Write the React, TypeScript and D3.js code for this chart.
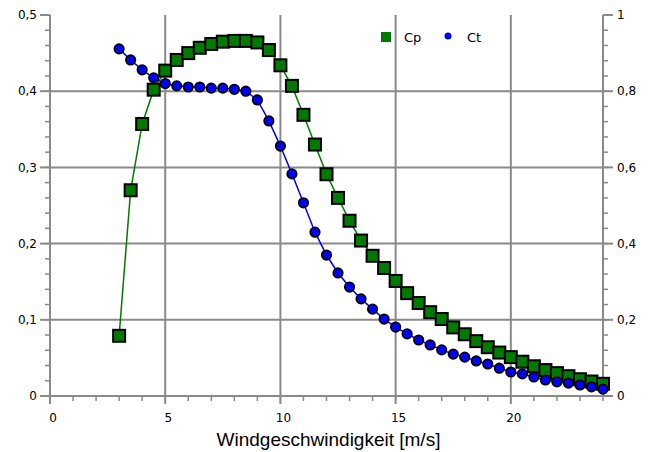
import React from "react";
import * as d3 from "d3";

const windSpeeds = [3, 3.5, 4, 4.5, 5, 5.5, 6, 6.5, 7, 7.5, 8, 8.5, 9, 9.5, 10, 10.5, 11, 11.5, 12, 12.5, 13, 13.5, 14, 14.5, 15, 15.5, 16, 16.5, 17, 17.5, 18, 18.5, 19, 19.5, 20, 20.5, 21, 21.5, 22, 22.5, 23, 23.5, 24];
const cpValues = [0.079, 0.27, 0.357, 0.402, 0.427, 0.441, 0.45, 0.457, 0.462, 0.465, 0.466, 0.466, 0.464, 0.454, 0.434, 0.407, 0.369, 0.33, 0.291, 0.26, 0.23, 0.204, 0.184, 0.168, 0.151, 0.135, 0.122, 0.11, 0.101, 0.09, 0.081, 0.072, 0.064, 0.057, 0.051, 0.045, 0.039, 0.034, 0.03, 0.026, 0.022, 0.019, 0.016];
const ctValues = [0.911, 0.882, 0.856, 0.835, 0.82, 0.814, 0.811, 0.811, 0.808, 0.808, 0.805, 0.8, 0.777, 0.722, 0.656, 0.583, 0.507, 0.43, 0.37, 0.323, 0.286, 0.255, 0.228, 0.202, 0.181, 0.163, 0.147, 0.134, 0.121, 0.11, 0.102, 0.092, 0.084, 0.073, 0.063, 0.058, 0.05, 0.042, 0.037, 0.034, 0.029, 0.024, 0.018];
const xTicks = [0, 5, 10, 15, 20];
const leftTicks = [0, 0.1, 0.2, 0.3, 0.4, 0.5];
const rightTicks = [0, 0.2, 0.4, 0.6, 0.8, 1];

const gridColor = "#8a8a8a";
const fmt = (v: number) => String(+v.toFixed(2)).replace(".", ",");

export default function App() {
  const x = d3.scaleLinear().domain([0, 24]).range([50, 603]);
  const yL = d3.scaleLinear().domain([0, 0.5]).range([396, 15]);
  const yR = d3.scaleLinear().domain([0, 1]).range([396, 15]);

  const cpLine = d3.line<number>().x((d, i) => x(windSpeeds[i])).y(d => yL(d));
  const ctLine = d3.line<number>().x((d, i) => x(windSpeeds[i])).y(d => yR(d));

  const xMinor = d3.range(0, 25, 1);
  const leftMinor = d3.range(0, 0.501, 0.02);
  const rightMinor = d3.range(0, 1.001, 0.04);

  return (
    <svg width={662} height={452} style={{ display: "block", position: "absolute", left: 0, top: 0 }}
      fontFamily="DejaVu Sans, Verdana, sans-serif">
      <rect width={662} height={452} fill="#fff" />
      {/* grid */}
      {leftTicks.slice(1, 5).map(t => (
        <line key={"h" + t} x1={x(0)} x2={x(24)} y1={yL(t)} y2={yL(t)} stroke={gridColor} strokeWidth={2} />
      ))}
      {xTicks.slice(1).map(t => (
        <line key={"v" + t} x1={x(t)} x2={x(t)} y1={yL(0.5)} y2={yL(0) + 8} stroke={gridColor} strokeWidth={2} />
      ))}
      {/* axes */}
      <line x1={x(0)} x2={x(0)} y1={yL(0.5)} y2={yL(0) + 8} stroke={gridColor} strokeWidth={2} />
      <line x1={x(24)} x2={x(24)} y1={yL(0.5)} y2={yL(0)} stroke={gridColor} strokeWidth={2} />
      <line x1={x(0)} x2={x(24)} y1={yL(0)} y2={yL(0)} stroke={gridColor} strokeWidth={2} />
      {xMinor.map(t => (
        <line key={"xm" + t} x1={x(t)} x2={x(t)} y1={yL(0)} y2={yL(0) + 5} stroke={gridColor} strokeWidth={1.5} />
      ))}
      {leftMinor.map(t => (
        <line key={"lm" + t} x1={x(0) - 5} x2={x(0)} y1={yL(t)} y2={yL(t)} stroke={gridColor} strokeWidth={1.5} />
      ))}
      {leftTicks.map(t => (
        <line key={"lt" + t} x1={x(0) - 10} x2={x(0)} y1={yL(t)} y2={yL(t)} stroke={gridColor} strokeWidth={2} />
      ))}
      {rightMinor.map(t => (
        <line key={"rm" + t} x1={x(24)} x2={x(24) + 5} y1={yR(t)} y2={yR(t)} stroke={gridColor} strokeWidth={1.5} />
      ))}
      {rightTicks.map(t => (
        <line key={"rt" + t} x1={x(24)} x2={x(24) + 10} y1={yR(t)} y2={yR(t)} stroke={gridColor} strokeWidth={2} />
      ))}
      {/* labels */}
      {leftTicks.map(t => (
        <text key={"ll" + t} x={x(0) - 13} y={yL(t)} dy="0.35em" textAnchor="end" fontSize={12}>{fmt(t)}</text>
      ))}
      {rightTicks.map(t => (
        <text key={"rl" + t} x={x(24) + 14} y={yR(t)} dy="0.35em" textAnchor="start" fontSize={12}>{fmt(t)}</text>
      ))}
      {xTicks.map(t => (
        <text key={"xl" + t} x={x(t) + 3} y={yL(0) + 26} textAnchor="middle" fontSize={12}>{t}</text>
      ))}
      <text x={x(12) + 2} y={446} textAnchor="middle" fontSize={19} fontFamily="Liberation Sans, Arial, sans-serif">Windgeschwindigkeit [m/s]</text>
      {/* series */}
      <path d={cpLine(cpValues) || ""} fill="none" stroke="#007a00" strokeWidth={1.5} />
      <path d={ctLine(ctValues) || ""} fill="none" stroke="#0000ff" strokeWidth={1.5} />
      {cpValues.map((v, i) => (
        <rect key={"cp" + i} x={x(windSpeeds[i]) - 6} y={yL(v) - 6} width={12} height={12}
          fill="#007a00" stroke="#000" strokeWidth={2} />
      ))}
      {ctValues.map((v, i) => (
        <circle key={"ct" + i} cx={x(windSpeeds[i])} cy={yR(v)} r={4.7} fill="#0000ff" stroke="#000" strokeWidth={1.8} />
      ))}
      {/* legend */}
      <rect x={381} y={32} width={10} height={10} fill="#007a00" />
      <text x={404} y={37} dy="0.35em" fontSize={13}>Cp</text>
      <circle cx={448} cy={36} r={3.5} fill="#0000ff" />
      <text x={467} y={37} dy="0.35em" fontSize={13}>Ct</text>
    </svg>
  );
}
